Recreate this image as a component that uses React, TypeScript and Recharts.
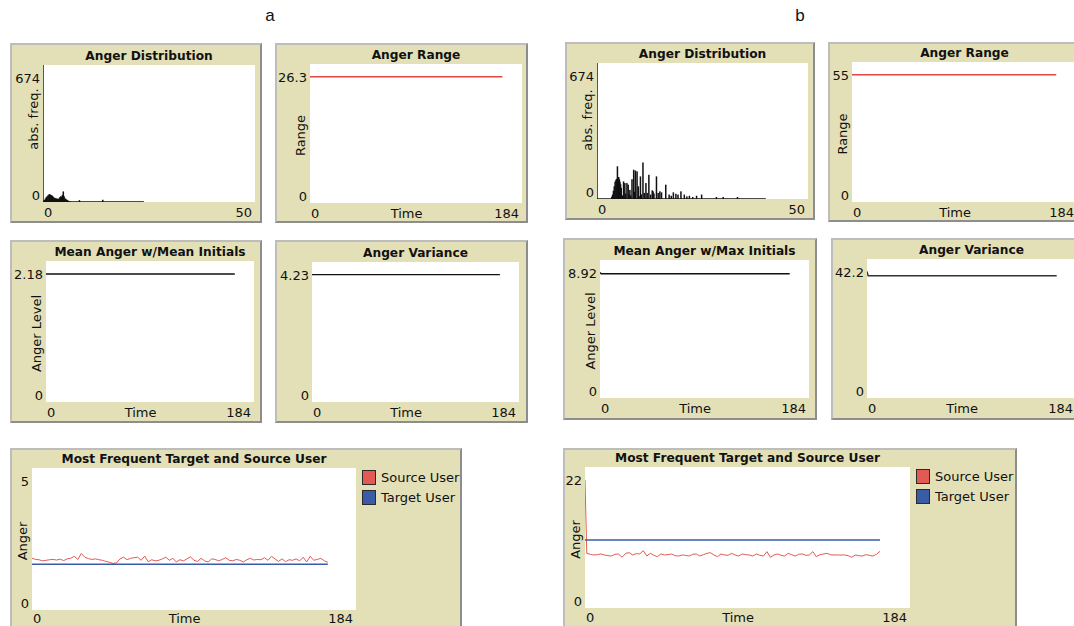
import React from 'react';
import { ComposedChart, Line, Bar, XAxis, YAxis, CartesianGrid, Legend } from 'recharts';

// ---- Run a: histogram of agent anger (bin value, number of agents) ----
const histABins = [0, 0.2, 0.4, 0.6, 0.8, 1.0, 1.2, 1.4, 1.6, 1.8, 2.0, 2.2, 2.4, 2.6, 2.8, 3.0, 3.2, 3.4, 3.6, 3.8, 4.0, 4.2, 4.4, 4.6, 4.8, 5.0, 5.2, 5.4, 5.6, 5.8, 6.0, 6.4, 8.6, 14.1];
const histACounts = [674, 7, 11, 17, 24, 28, 33, 37, 39, 35, 33, 31, 26, 22, 20, 18, 17, 16, 15, 18, 24, 28, 26, 35, 52, 28, 18, 15, 11, 9, 6, 4, 9, 11];
const histAExtent = 23.8;

// ---- Run b: histogram of agent anger ----
const histBBins = [0, 3.5, 3.7, 3.9, 4.1, 4.3, 4.5, 4.7, 4.85, 5.0, 5.15, 5.3, 5.45, 5.6, 5.75, 6.0, 6.3, 6.6, 6.8, 7.1, 7.4, 7.6, 7.8, 8.0, 8.3, 8.7, 8.9, 9.1, 9.5, 9.8, 10.0, 10.3, 10.5, 10.9, 11.2, 11.6, 11.9, 12.3, 12.7, 13.1, 13.3, 13.5, 14.1, 14.5, 14.9, 15.3, 16.3, 17.1, 17.6, 18.1, 18.7, 19.2, 19.9, 20.7, 21.3, 21.9, 22.7, 23.6, 24.8, 28.3, 29.9, 33.3];
const histBCounts = [674, 11, 22, 41, 63, 86, 96, 100, 162, 105, 109, 98, 86, 73, 55, 18, 87, 79, 27, 79, 71, 23, 45, 18, 98, 145, 36, 141, 137, 63, 14, 112, 23, 181, 30, 79, 30, 120, 22, 43, 38, 27, 112, 30, 38, 33, 71, 22, 16, 33, 26, 22, 38, 22, 13, 16, 10, 16, 22, 10, 10, 10];
const histBExtent = 40;

// ---- Flat time series (ticks) ----
const flatTimes = [0, 167];
const rangeA = [23.9, 23.9];
const meanA = [1.98, 1.98];
const varianceA = [3.85, 3.85];
const rangeB = [50, 50];
const hookTimes = [0, 1, 167];
const meanB = [8.11, 8.03, 8.03];
const varianceB = [38.4, 37.1, 37.1];

// ---- Most frequent source / target user anger ----
// run a: source user sampled every 2 ticks from tick 0
const sourceA = [
  1.82, 1.78, 1.77, 1.73, 1.75, 1.77, 1.78, 1.76, 1.79, 1.74,
  1.80, 1.82, 1.89, 1.78, 1.99, 1.86, 1.81, 1.78, 1.80, 1.77,
  1.75, 1.71, 1.68, 1.64, 1.66, 1.80, 1.86, 1.77, 1.82, 1.84,
  1.86, 1.75, 1.90, 1.70, 1.77, 1.73, 1.75, 1.80, 1.86, 1.75,
  1.82, 1.69, 1.77, 1.73, 1.80, 1.87, 1.75, 1.71, 1.82, 1.73,
  1.69, 1.80, 1.78, 1.73, 1.78, 1.84, 1.75, 1.73, 1.78, 1.75,
  1.69, 1.77, 1.82, 1.76, 1.78, 1.77, 1.84, 1.75, 1.89, 1.80,
  1.71, 1.80, 1.70, 1.77, 1.75, 1.80, 1.73, 1.86, 1.69, 1.89,
  1.75, 1.78, 1.82, 1.73, 1.68,
];
const targetATimes = [0, 168];
const targetA = [1.61, 1.61];

// run b: starting value at tick 0, then every 2 ticks from tick 1
const sourceBStart = 20;
const sourceB = [
  8.53, 8.38, 8.27, 8.32, 8.43, 8.27, 8.17, 8.11, 8.38, 8.43,
  7.91, 8.53, 8.63, 8.27, 8.48, 8.43, 8.95, 8.11, 8.53, 8.22,
  8.01, 8.43, 8.27, 8.32, 8.43, 8.17, 8.11, 8.27, 8.22, 8.11,
  8.38, 8.43, 8.11, 8.32, 8.53, 8.63, 8.27, 8.01, 8.43, 8.27,
  8.22, 8.53, 8.27, 8.11, 8.43, 8.32, 8.27, 8.11, 8.43, 8.22,
  8.11, 8.79, 7.91, 8.27, 8.43, 8.22, 8.11, 8.53, 8.32, 8.11,
  8.38, 8.43, 8.22, 8.27, 8.79, 8.01, 8.32, 8.43, 8.53, 8.32,
  8.27, 8.27, 8.27, 8.27, 8.17, 7.91, 8.27, 8.17, 8.11, 8.32,
  8.22, 8.11, 8.38, 8.84,
];
const targetBTimes = [0, 167];
const targetB = [10.6, 10.6];

// ---- styling ----
const FONT = '"DejaVu Sans", Verdana, sans-serif';
const PANEL_BG = '#e3e0b7';
const RED = '#dc4a43';
const SOURCE_RED = '#e35a55';
const BLUE = '#3a5ba6';
const INK = '#111';

type Row = { t: number; v: number };
const zip = (ts: number[], vs: number[]): Row[] => ts.map((t, i) => ({ t, v: vs[i] }));

const histARows = zip(histABins, histACounts);
const histBRows = zip(histBBins, histBCounts);
const baseA = zip([0, histAExtent], [0, 0]);
const baseB = zip([0, histBExtent], [0, 0]);
const sourceARows = sourceA.map((v, i) => ({ t: i * 2, v }));
const sourceBRows = [{ t: 0, v: sourceBStart }, ...sourceB.map((v, i) => ({ t: 1 + i * 2, v }))];

type PanelCfg = {
  box: [number, number, number, number];
  plot: [number, number, number, number];
  title: string;
  yName?: string;
  yNameCenter?: number;
  xName?: string;
  xMax: number;
  yMax: number;
  xLabelDy?: number;
  legend?: boolean;
};

const HistBar = (p: any) => {
  if (!p.height || p.height <= 0) return null;
  const cx = p.x + p.width / 2;
  return <rect x={cx - 0.75} y={p.y} width={1.5} height={p.height} fill={INK} />;
};

const legendContent = (props: any) => (
  <div style={{ fontFamily: FONT, fontSize: 13, color: INK }}>
    {(props.payload || []).map((item: any) => (
      <div key={item.value} style={{ display: 'flex', alignItems: 'center', height: 20 }}>
        <span
          style={{
            display: 'inline-block',
            width: 12,
            height: 13,
            background: item.color,
            border: '1px solid #2a2a2a',
            marginRight: 5,
          }}
        />
        <span>{item.value}</span>
      </div>
    ))}
  </div>
);

function Panel({ cfg, data, children }: { cfg: PanelCfg; data?: Row[]; children: React.ReactNode }) {
  const [bx, by, bw, bh] = cfg.box;
  const [pl, pt, pr, pb] = cfg.plot;
  const m = { left: pl - bx, top: pt - by, right: bx + bw - pr, bottom: by + bh - pb };
  const plotBottom = pb - by;
  const plotRight = pr - bx;
  const legendW = cfg.legend ? m.right - 8 : 0;
  const maxText = String(cfg.xMax);
  const timeX = (m.left + 9 + plotRight - 3 - maxText.length * 8.3) / 2;
  const yNameY = (cfg.yNameCenter ?? (pt + pb) / 2 + 2) - by;
  const yNameX = m.left - 10;
  const xLabelY = plotBottom + (cfg.xLabelDy ?? 10.5);
  const txt = { fontFamily: FONT, fontSize: 13, fill: INK };

  const xTick = (p: any) => {
    const v = p.payload.value;
    const isMax = v === cfg.xMax;
    return (
      <text x={isMax ? p.x - 3 : p.x + 1} y={xLabelY} textAnchor={isMax ? 'end' : 'start'} dominantBaseline="central" {...txt}>
        {v}
      </text>
    );
  };
  const yTick = (p: any) => {
    const v = p.payload.value;
    const isMax = v === cfg.yMax;
    return (
      <text x={m.left - 3} y={isMax ? p.y + 13.5 : p.y - 7} textAnchor="end" dominantBaseline="central" {...txt}>
        {v}
      </text>
    );
  };
  const xName = () =>
    cfg.xName ? (
      <text x={timeX} y={xLabelY} textAnchor="middle" dominantBaseline="central" {...txt}>
        {cfg.xName}
      </text>
    ) : null;
  const yName = () =>
    cfg.yName ? (
      <text
        x={yNameX}
        y={yNameY}
        textAnchor="middle"
        dominantBaseline="central"
        transform={`rotate(-90 ${yNameX} ${yNameY})`}
        {...txt}
      >
        {cfg.yName}
      </text>
    ) : null;

  return (
    <>
      <div
        style={{
          position: 'absolute',
          left: bx,
          top: by,
          width: bw,
          height: bh,
          boxSizing: 'border-box',
          background: PANEL_BG,
          borderTop: '2px solid #bdbdbd',
          borderLeft: '2px solid #bdbdbd',
          borderRight: '2px solid #8d8d8d',
          borderBottom: '2px solid #8d8d8d',
        }}
      />
      <div
        style={{
          position: 'absolute',
          left: pl,
          width: pr - pl,
          top: pt - 17,
          height: 16,
          lineHeight: '16px',
          textAlign: 'center',
          fontFamily: FONT,
          fontWeight: 'bold',
          fontSize: 12.2,
          color: INK,
          whiteSpace: 'nowrap',
        }}
      >
        {cfg.title}
      </div>
      <div style={{ position: 'absolute', left: bx, top: by, width: bw, height: bh }}>
        <ComposedChart
          width={bw}
          height={bh}
          data={data}
          margin={{ top: m.top, right: m.right - legendW, bottom: 0, left: 0 }}
        >
          <CartesianGrid fill="#ffffff" stroke="none" horizontal={false} vertical={false} />
          <XAxis
            type="number"
            dataKey="t"
            domain={[0, cfg.xMax]}
            ticks={[0, cfg.xMax]}
            interval={0}
            allowDataOverflow
            axisLine={false}
            tickLine={false}
            height={m.bottom}
            tick={xTick}
            label={xName}
          />
          <YAxis
            type="number"
            dataKey="v"
            domain={[0, cfg.yMax]}
            ticks={[0, cfg.yMax]}
            interval={0}
            allowDataOverflow
            axisLine={false}
            tickLine={false}
            width={m.left}
            tick={yTick}
            label={yName}
          />
          {cfg.legend ? (
            <Legend
              layout="vertical"
              align="right"
              verticalAlign="top"
              content={legendContent}
              wrapperStyle={{
                position: 'absolute',
                left: plotRight + 6,
                right: 'auto',
                top: m.top - 1,
                width: legendW,
                margin: 0,
                padding: 0,
              }}
            />
          ) : null}
          {children}
        </ComposedChart>
      </div>
    </>
  );
}

const panels: Record<string, PanelCfg> = {
  a1: { box: [10, 43, 252, 180], plot: [43, 65, 255, 202], title: 'Anger Distribution', yName: 'abs. freq.', yNameCenter: 119, xMax: 50, yMax: 674 },
  a2: { box: [275, 43, 253, 180], plot: [310, 64, 522, 203], title: 'Anger Range', yName: 'Range', xName: 'Time', xMax: 184, yMax: 26.3 },
  a3: { box: [10, 240, 252, 183], plot: [46, 261, 254, 402], title: 'Mean Anger w/Mean Initials', yName: 'Anger Level', xName: 'Time', xMax: 184, yMax: 2.18 },
  a4: { box: [275, 240, 253, 183], plot: [312, 262, 519, 402], title: 'Anger Variance', xName: 'Time', xMax: 184, yMax: 4.23 },
  a5: { box: [10, 448, 452, 186], plot: [32, 468, 356, 610], title: 'Most Frequent Target and Source User', yName: 'Anger', xName: 'Time', xMax: 184, yMax: 5, xLabelDy: 8.5, legend: true },
  b1: { box: [565, 42, 250, 178], plot: [597, 63, 808, 199], title: 'Anger Distribution', yName: 'abs. freq.', yNameCenter: 120, xMax: 50, yMax: 674 },
  b2: { box: [828, 42, 254, 180], plot: [852, 62, 1077, 202], title: 'Anger Range', yName: 'Range', xName: 'Time', xMax: 184, yMax: 55 },
  b3: { box: [563, 238, 254, 182], plot: [600, 260, 809, 398], title: 'Mean Anger w/Max Initials', yName: 'Anger Level', xName: 'Time', xMax: 184, yMax: 8.92 },
  b4: { box: [831, 238, 254, 182], plot: [867, 259, 1076, 398], title: 'Anger Variance', xName: 'Time', xMax: 184, yMax: 42.2 },
  b5: { box: [563, 448, 454, 186], plot: [585, 467, 910, 608], title: 'Most Frequent Target and Source User', yName: 'Anger', xName: 'Time', xMax: 184, yMax: 22, xLabelDy: 9, legend: true },
};

const flatLine = (rows: Row[], color: string, key: string) => (
  <Line key={key} data={rows} dataKey="v" type="linear" stroke={color} strokeWidth={1.4} dot={false} activeDot={false} isAnimationActive={false} legendType="none" />
);

export default function App() {
  return (
    <div style={{ position: 'absolute', left: 0, top: 0, width: 1074, height: 626, overflow: 'hidden', background: '#fff' }}>
      <div style={{ position: 'absolute', left: 262, top: 6, width: 16, textAlign: 'center', fontFamily: '"Liberation Sans", Arial, sans-serif', fontSize: 17, color: INK }}>a</div>
      <div style={{ position: 'absolute', left: 792, top: 6, width: 16, textAlign: 'center', fontFamily: '"Liberation Sans", Arial, sans-serif', fontSize: 17, color: INK }}>b</div>

      <Panel cfg={panels.a1} data={histARows}>
        <Bar dataKey="v" shape={HistBar} isAnimationActive={false} barSize={1} />
        <Line data={baseA} dataKey="v" stroke={INK} strokeWidth={1.5} dot={false} isAnimationActive={false} />
      </Panel>
      <Panel cfg={panels.a2}>{flatLine(zip(flatTimes, rangeA), RED, 'ra')}</Panel>
      <Panel cfg={panels.a3}>{flatLine(zip(flatTimes, meanA), INK, 'ma')}</Panel>
      <Panel cfg={panels.a4}>{flatLine(zip(flatTimes, varianceA), INK, 'va')}</Panel>
      <Panel cfg={panels.a5}>
        <Line name="Source User" data={sourceARows} dataKey="v" stroke={SOURCE_RED} strokeWidth={1} dot={false} isAnimationActive={false} />
        <Line name="Target User" data={zip(targetATimes, targetA)} dataKey="v" stroke={BLUE} strokeWidth={1.4} dot={false} isAnimationActive={false} />
      </Panel>

      <Panel cfg={panels.b1} data={histBRows}>
        <Bar dataKey="v" shape={HistBar} isAnimationActive={false} barSize={1} />
        <Line data={baseB} dataKey="v" stroke={INK} strokeWidth={1.5} dot={false} isAnimationActive={false} />
      </Panel>
      <Panel cfg={panels.b2}>{flatLine(zip(flatTimes, rangeB), RED, 'rb')}</Panel>
      <Panel cfg={panels.b3}>{flatLine(zip(hookTimes, meanB), INK, 'mb')}</Panel>
      <Panel cfg={panels.b4}>{flatLine(zip(hookTimes, varianceB), '#333', 'vb')}</Panel>
      <Panel cfg={panels.b5}>
        <Line name="Source User" data={sourceBRows} dataKey="v" stroke={SOURCE_RED} strokeWidth={1} dot={false} isAnimationActive={false} />
        <Line name="Target User" data={zip(targetBTimes, targetB)} dataKey="v" stroke={BLUE} strokeWidth={1.4} dot={false} isAnimationActive={false} />
      </Panel>
    </div>
  );
}
